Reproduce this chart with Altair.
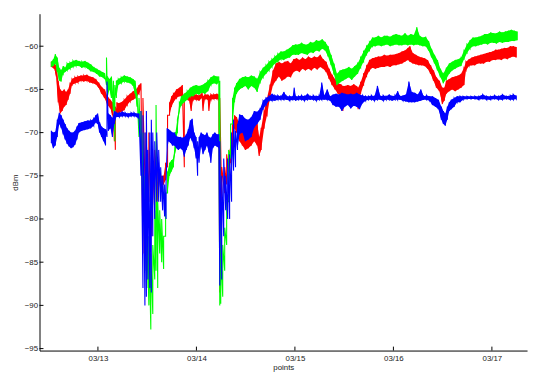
import altair as alt
import pandas as pd

# (day of March, low dBm, high dBm); the band shows the noise spread
GREEN = [
    (12.527, -62.4, -61.8), (12.547, -62.3, -61.5), (12.567, -62.0, -60.9), (12.587, -63.0, -61.3),
    (12.607, -64.0, -62.5), (12.627, -64.1, -62.8), (12.647, -63.2, -62.3), (12.667, -63.0, -62.5),
    (12.687, -62.8, -62.0), (12.717, -62.6, -61.9), (12.747, -62.4, -61.7), (12.777, -62.3, -61.6),
    (12.807, -62.3, -61.7), (12.837, -62.5, -61.8), (12.867, -62.4, -61.7), (12.897, -62.6, -61.9),
    (12.927, -62.9, -62.1), (12.957, -63.0, -62.4), (12.987, -63.2, -62.6), (13.017, -63.5, -62.8),
    (13.047, -63.6, -63.0), (13.067, -63.8, -63.1), (13.087, -64.5, -61.3), (13.097, -66.0, -63.5),
    (13.117, -65.0, -63.8), (13.137, -66.0, -63.5), (13.157, -67.5, -64.0), (13.172, -71.0, -64.5),
    (13.187, -66.0, -64.0), (13.207, -64.5, -63.8), (13.237, -64.3, -63.6), (13.267, -64.1, -63.4),
    (13.297, -64.2, -63.5), (13.327, -64.3, -63.6), (13.357, -64.6, -63.8), (13.377, -65.5, -64.0),
    (13.397, -67.0, -65.5), (13.417, -70.5, -66.0), (13.437, -72.0, -67.5), (13.457, -80.0, -70.0),
    (13.477, -86.0, -75.0), (13.497, -88.0, -80.0), (13.517, -90.0, -82.0), (13.537, -92.8, -84.0),
    (13.557, -91.0, -83.0), (13.577, -87.0, -79.0), (13.590, -86.0, -66.8), (13.607, -88.0, -78.0),
    (13.627, -84.0, -79.0), (13.647, -85.0, -80.0), (13.667, -85.8, -82.0), (13.687, -82.0, -77.0),
    (13.707, -77.0, -74.5), (13.727, -75.0, -73.5), (13.747, -74.5, -73.2), (13.767, -74.0, -73.0),
    (13.787, -72.0, -70.0), (13.807, -70.0, -68.5), (13.827, -67.5, -66.5), (13.847, -66.8, -65.8),
    (13.877, -66.5, -65.5), (13.907, -66.2, -65.2), (13.937, -65.8, -64.8), (13.967, -65.8, -64.6),
    (13.997, -65.5, -64.5), (14.027, -65.6, -64.6), (14.057, -65.4, -64.5), (14.087, -65.5, -64.3),
    (14.117, -65.2, -64.0), (14.147, -64.5, -63.6), (14.177, -64.3, -63.4), (14.207, -64.4, -63.5),
    (14.227, -64.2, -63.5), (14.237, -90.0, -64.0), (14.247, -89.8, -84.0), (14.267, -89.0, -83.0),
    (14.287, -86.0, -81.0), (14.307, -83.0, -78.0), (14.327, -78.0, -72.0), (14.347, -73.0, -69.0),
    (14.367, -69.0, -66.0), (14.387, -66.5, -64.8), (14.407, -65.5, -64.3), (14.437, -65.0, -63.8),
    (14.467, -64.8, -63.6), (14.497, -64.6, -63.5), (14.527, -65.0, -63.6), (14.557, -64.6, -63.4),
    (14.587, -64.8, -63.5), (14.617, -65.3, -63.8), (14.647, -64.2, -63.0), (14.677, -63.6, -62.5),
    (14.707, -63.2, -62.2), (14.737, -62.8, -61.8), (14.767, -62.4, -61.5), (14.797, -62.0, -61.2),
    (14.827, -61.8, -60.9), (14.857, -61.5, -60.6), (14.887, -61.6, -60.6), (14.917, -61.4, -60.4),
    (14.947, -61.3, -60.2), (14.977, -61.0, -59.9), (15.007, -61.0, -59.8), (15.037, -61.0, -59.8),
    (15.067, -60.8, -59.6), (15.097, -60.9, -59.8), (15.127, -61.0, -59.8), (15.157, -60.7, -59.5),
    (15.187, -60.8, -59.6), (15.217, -60.5, -59.3), (15.247, -60.6, -59.4), (15.277, -60.3, -59.2),
    (15.307, -60.5, -59.5), (15.337, -61.2, -60.0), (15.367, -62.2, -61.0), (15.397, -63.3, -62.0),
    (15.427, -64.5, -63.2), (15.457, -64.2, -62.8), (15.487, -64.0, -62.7), (15.517, -63.8, -62.6),
    (15.547, -63.6, -62.4), (15.577, -63.9, -62.6), (15.607, -63.5, -62.3), (15.637, -63.2, -62.0),
    (15.667, -62.5, -61.3), (15.697, -61.8, -60.6), (15.727, -61.0, -60.0), (15.757, -60.5, -59.5),
    (15.787, -60.0, -59.0), (15.817, -60.0, -59.0), (15.847, -59.9, -58.8), (15.877, -60.0, -59.0),
    (15.907, -59.9, -58.8), (15.937, -59.8, -58.8), (15.967, -60.0, -58.9), (15.997, -59.9, -58.7),
    (16.027, -59.8, -58.6), (16.057, -59.9, -58.7), (16.087, -59.9, -58.8), (16.117, -59.8, -58.5),
    (16.147, -59.9, -58.8), (16.177, -59.8, -58.6), (16.207, -59.9, -58.7), (16.237, -59.8, -57.8),
    (16.267, -59.9, -58.8), (16.297, -60.0, -59.0), (16.327, -60.0, -58.9), (16.357, -60.5, -59.4),
    (16.387, -61.3, -60.3), (16.417, -62.0, -61.0), (16.447, -62.8, -61.6), (16.477, -63.6, -62.6),
    (16.507, -64.3, -63.2), (16.537, -63.8, -62.5), (16.567, -63.2, -62.0), (16.597, -62.8, -61.8),
    (16.627, -62.6, -61.6), (16.657, -62.4, -61.5), (16.687, -62.3, -61.3), (16.717, -61.5, -60.5),
    (16.747, -60.8, -59.8), (16.777, -60.3, -59.3), (16.807, -60.0, -59.0), (16.837, -60.0, -59.0),
    (16.867, -59.9, -58.9), (16.897, -59.8, -58.8), (16.927, -59.7, -58.6), (16.957, -59.8, -58.6),
    (16.987, -59.6, -58.4), (17.017, -59.6, -58.5), (17.047, -59.7, -58.5), (17.077, -59.5, -58.3),
    (17.107, -59.6, -58.4), (17.137, -59.5, -58.3), (17.167, -59.5, -58.2), (17.197, -59.4, -58.1),
    (17.227, -59.4, -58.2), (17.257, -59.3, -58.3),
]

RED = [
    (12.527, -62.4, -61.8), (12.557, -62.6, -62.0), (12.577, -63.5, -62.2), (12.597, -66.5, -64.0),
    (12.617, -67.8, -65.0), (12.637, -67.5, -65.2), (12.657, -67.0, -65.0), (12.677, -66.8, -65.3),
    (12.697, -66.2, -65.0), (12.717, -65.5, -64.3), (12.737, -64.5, -63.8), (12.767, -64.3, -63.6),
    (12.797, -64.2, -63.5), (12.827, -64.0, -63.4), (12.857, -64.1, -63.4), (12.887, -64.0, -63.3),
    (12.917, -64.2, -63.5), (12.947, -64.3, -63.6), (12.977, -64.4, -63.8), (13.007, -64.8, -64.2),
    (13.037, -65.5, -64.7), (13.067, -66.0, -65.0), (13.097, -66.8, -65.8), (13.127, -67.2, -66.2),
    (13.147, -68.0, -66.5), (13.167, -71.0, -66.8), (13.177, -72.0, -67.0), (13.192, -68.0, -66.5),
    (13.207, -67.8, -66.6), (13.237, -67.6, -66.5), (13.267, -67.4, -66.2), (13.297, -66.8, -65.8),
    (13.327, -66.4, -65.5), (13.357, -66.2, -65.2), (13.387, -66.0, -65.0), (13.417, -65.5, -64.5),
    (13.437, -65.0, -64.3), (13.457, -84.0, -66.0), (13.487, -80.0, -70.0), (13.517, -78.0, -70.0),
    (13.547, -82.0, -72.0), (13.577, -79.0, -72.0), (13.607, -78.0, -74.0), (13.637, -76.5, -75.0),
    (13.667, -76.0, -75.0), (13.687, -75.5, -73.5), (13.707, -74.0, -68.0), (13.727, -68.0, -66.5),
    (13.747, -67.0, -65.8), (13.767, -66.5, -65.5), (13.797, -66.0, -65.0), (13.827, -65.8, -64.8),
    (13.857, -65.8, -64.5), (13.877, -74.0, -65.5), (13.897, -66.2, -65.4), (13.927, -66.3, -65.6),
    (13.947, -67.5, -65.8), (13.967, -66.2, -65.6), (13.997, -66.2, -65.6), (14.027, -66.3, -65.7),
    (14.057, -66.0, -65.4), (14.067, -67.5, -65.8), (14.087, -66.1, -65.6), (14.117, -66.2, -65.6),
    (14.127, -67.5, -65.8), (14.147, -66.2, -65.6), (14.177, -66.1, -65.6), (14.207, -66.1, -65.5),
    (14.227, -66.2, -65.6), (14.237, -88.5, -66.0), (14.257, -78.0, -74.0), (14.287, -77.0, -74.0),
    (14.307, -76.0, -72.5), (14.327, -74.5, -72.5), (14.347, -73.5, -71.5), (14.367, -72.0, -69.0),
    (14.387, -69.5, -68.0), (14.407, -70.0, -68.2), (14.437, -71.0, -69.0), (14.467, -71.5, -69.3),
    (14.497, -72.0, -69.8), (14.527, -71.8, -69.5), (14.557, -71.5, -68.8), (14.587, -71.0, -68.5),
    (14.617, -71.5, -69.0), (14.637, -72.7, -70.5), (14.657, -72.0, -69.5), (14.687, -69.5, -67.5),
    (14.717, -68.0, -66.0), (14.747, -66.0, -64.5), (14.777, -64.5, -62.8), (14.807, -64.0, -62.0),
    (14.837, -63.5, -61.8), (14.867, -64.0, -62.0), (14.897, -63.8, -61.8), (14.927, -63.5, -61.7),
    (14.957, -63.6, -62.0), (14.987, -63.0, -61.5), (15.017, -62.8, -61.4), (15.047, -63.0, -61.6),
    (15.077, -62.6, -61.3), (15.107, -62.8, -61.5), (15.137, -62.6, -61.2), (15.167, -62.8, -61.4),
    (15.197, -62.5, -61.2), (15.227, -62.7, -61.3), (15.257, -62.4, -61.0), (15.287, -62.6, -61.5),
    (15.317, -63.0, -61.8), (15.347, -63.8, -62.6), (15.377, -64.5, -63.3), (15.407, -65.0, -63.8),
    (15.437, -65.5, -64.3), (15.467, -65.8, -64.4), (15.487, -67.5, -64.6), (15.507, -66.0, -64.6),
    (15.537, -65.8, -64.5), (15.567, -66.0, -64.6), (15.597, -65.8, -64.4), (15.627, -66.0, -64.6),
    (15.642, -67.3, -64.8), (15.667, -65.5, -64.2), (15.697, -64.5, -63.2), (15.727, -63.5, -62.3),
    (15.757, -62.8, -61.6), (15.787, -62.5, -61.4), (15.817, -62.6, -61.3), (15.847, -62.5, -61.2),
    (15.877, -62.4, -61.2), (15.907, -62.4, -61.0), (15.937, -62.3, -61.1), (15.967, -62.4, -61.0),
    (15.997, -62.2, -61.0), (16.027, -62.2, -60.9), (16.057, -62.1, -60.8), (16.087, -62.0, -60.6),
    (16.117, -61.8, -60.5), (16.147, -61.6, -60.2), (16.167, -61.8, -60.0), (16.197, -62.0, -60.8),
    (16.227, -62.1, -61.0), (16.257, -62.2, -61.2), (16.287, -62.2, -61.3), (16.317, -62.3, -61.4),
    (16.347, -62.6, -61.6), (16.377, -63.2, -62.2), (16.407, -64.0, -62.8), (16.437, -64.8, -63.6),
    (16.467, -65.2, -64.0), (16.497, -66.7, -64.8), (16.517, -66.3, -64.8), (16.537, -65.5, -64.0),
    (16.567, -65.2, -63.8), (16.597, -65.0, -63.6), (16.627, -65.2, -63.5), (16.657, -65.0, -63.4),
    (16.687, -64.8, -63.2), (16.717, -64.5, -62.5), (16.737, -62.8, -61.8), (16.767, -62.3, -61.5),
    (16.797, -62.2, -61.3), (16.827, -62.2, -61.2), (16.857, -62.0, -61.1), (16.887, -62.0, -61.0),
    (16.917, -62.0, -60.9), (16.947, -61.8, -60.8), (16.977, -61.8, -60.7), (17.007, -61.6, -60.6),
    (17.037, -61.6, -60.4), (17.067, -61.5, -60.4), (17.097, -61.6, -60.3), (17.127, -61.4, -60.2),
    (17.157, -61.5, -60.2), (17.187, -61.3, -60.0), (17.217, -61.2, -60.0), (17.247, -61.3, -60.1),
]

BLUE = [
    (12.527, -71.2, -69.8), (12.547, -71.8, -70.0), (12.567, -71.5, -69.9), (12.587, -70.5, -68.5),
    (12.607, -69.0, -67.7), (12.627, -69.5, -68.0), (12.647, -70.2, -68.5), (12.667, -70.8, -69.0),
    (12.687, -71.3, -69.5), (12.707, -71.6, -69.8), (12.727, -71.8, -70.0), (12.747, -71.7, -70.0),
    (12.767, -71.4, -69.8), (12.787, -70.8, -69.3), (12.807, -70.0, -68.9), (12.837, -69.8, -68.8),
    (12.867, -69.7, -68.7), (12.897, -69.6, -68.6), (12.927, -69.5, -68.6), (12.957, -69.2, -68.4),
    (12.977, -68.8, -68.0), (12.997, -69.0, -67.8), (13.017, -70.0, -68.8), (13.037, -70.5, -69.3),
    (13.057, -71.0, -69.5), (13.077, -71.5, -69.6), (13.092, -70.5, -64.1), (13.107, -69.8, -67.8),
    (13.127, -69.5, -68.0), (13.147, -70.5, -68.3), (13.167, -69.0, -67.5), (13.187, -68.2, -67.7),
    (13.217, -68.2, -67.7), (13.247, -68.1, -67.6), (13.277, -68.1, -67.7), (13.307, -68.2, -67.8),
    (13.337, -68.1, -67.7), (13.367, -68.1, -67.7), (13.397, -68.2, -67.8), (13.417, -68.4, -67.8),
    (13.437, -75.0, -67.5), (13.457, -88.0, -68.0), (13.477, -90.0, -70.0), (13.492, -89.0, -67.5),
    (13.507, -87.0, -72.0), (13.527, -88.0, -70.0), (13.542, -88.5, -68.5), (13.557, -82.0, -70.0),
    (13.577, -80.0, -71.0), (13.597, -78.0, -70.0), (13.617, -78.0, -72.0), (13.637, -78.0, -74.0),
    (13.657, -79.0, -75.0), (13.677, -79.7, -76.0), (13.692, -80.0, -75.5), (13.702, -72.0, -69.5),
    (13.717, -71.0, -69.6), (13.737, -71.2, -69.8), (13.757, -71.5, -70.0), (13.777, -71.5, -70.0),
    (13.797, -71.8, -70.4), (13.817, -72.0, -70.5), (13.837, -71.8, -70.5), (13.857, -72.0, -70.6),
    (13.877, -72.8, -70.5), (13.897, -72.0, -70.2), (13.917, -71.5, -69.6), (13.937, -70.6, -68.6),
    (13.957, -71.0, -68.4), (13.977, -71.8, -70.0), (13.997, -73.0, -70.5), (14.012, -75.0, -71.0),
    (14.027, -73.5, -70.5), (14.047, -71.6, -70.0), (14.067, -72.5, -70.2), (14.087, -72.0, -70.3),
    (14.107, -71.5, -70.0), (14.127, -72.3, -70.5), (14.147, -73.5, -70.6), (14.167, -71.8, -70.2),
    (14.187, -71.5, -70.0), (14.207, -71.6, -70.2), (14.227, -71.8, -70.2), (14.237, -87.7, -71.0),
    (14.257, -87.0, -75.0), (14.277, -82.0, -73.0), (14.297, -79.0, -75.0), (14.317, -80.0, -73.0),
    (14.337, -80.0, -72.5), (14.357, -78.0, -70.0), (14.377, -74.4, -68.5), (14.397, -74.0, -69.8),
    (14.417, -72.0, -69.0), (14.437, -70.2, -67.9), (14.467, -70.0, -68.0), (14.497, -71.0, -68.4),
    (14.527, -70.8, -68.5), (14.557, -70.5, -68.2), (14.587, -69.4, -67.5), (14.617, -69.0, -67.6),
    (14.647, -68.5, -67.2), (14.677, -67.3, -66.3), (14.707, -66.8, -66.0), (14.737, -66.3, -65.8),
    (14.767, -66.3, -65.5), (14.797, -66.3, -65.7), (14.827, -66.2, -65.7), (14.857, -66.2, -65.8),
    (14.887, -66.2, -65.3), (14.917, -66.2, -65.8), (14.947, -66.3, -65.8), (14.977, -66.2, -65.8),
    (14.992, -66.2, -64.8), (15.007, -66.3, -65.8), (15.037, -66.2, -65.8), (15.067, -66.2, -65.7),
    (15.097, -66.3, -65.8), (15.127, -66.2, -65.5), (15.157, -66.2, -65.8), (15.187, -66.2, -65.7),
    (15.217, -66.3, -65.8), (15.247, -66.2, -65.7), (15.272, -66.2, -64.2), (15.297, -66.2, -65.7),
    (15.327, -66.2, -65.0), (15.357, -66.3, -65.8), (15.387, -66.8, -65.6), (15.417, -67.0, -65.5),
    (15.447, -67.0, -65.6), (15.477, -67.5, -65.4), (15.507, -67.0, -65.5), (15.537, -66.8, -65.6),
    (15.567, -67.2, -65.5), (15.597, -66.9, -65.6), (15.627, -67.0, -65.4), (15.657, -67.3, -65.6),
    (15.687, -66.6, -65.7), (15.717, -66.3, -65.8), (15.747, -66.2, -65.8), (15.777, -66.2, -65.7),
    (15.807, -66.3, -65.8), (15.837, -66.2, -64.6), (15.867, -66.2, -65.8), (15.897, -66.3, -65.7),
    (15.927, -66.2, -65.8), (15.957, -66.2, -65.6), (15.987, -66.3, -65.8), (16.017, -66.2, -65.7),
    (16.042, -66.2, -65.2), (16.067, -66.2, -65.8), (16.097, -66.3, -65.7), (16.127, -66.4, -65.6),
    (16.157, -66.5, -64.1), (16.187, -66.5, -65.3), (16.217, -66.5, -65.4), (16.247, -66.4, -65.6),
    (16.277, -66.3, -65.0), (16.307, -66.2, -65.8), (16.337, -66.2, -65.7), (16.367, -66.3, -65.8),
    (16.397, -66.8, -65.8), (16.427, -67.0, -66.0), (16.457, -67.3, -66.2), (16.487, -68.5, -67.0),
    (16.507, -69.0, -67.5), (16.527, -69.2, -67.8), (16.547, -68.5, -67.0), (16.567, -67.5, -66.5),
    (16.587, -67.3, -66.2), (16.617, -67.0, -66.0), (16.647, -66.5, -65.8), (16.677, -66.5, -65.8),
    (16.707, -66.2, -65.8), (16.747, -66.1, -65.8), (16.787, -66.1, -65.8), (16.827, -66.1, -65.8),
    (16.867, -66.2, -65.8), (16.907, -66.1, -65.6), (16.947, -66.2, -65.8), (16.987, -66.2, -65.8),
    (17.027, -66.1, -65.7), (17.067, -66.2, -65.8), (17.107, -66.2, -65.6), (17.147, -66.1, -65.8),
    (17.187, -66.2, -65.7), (17.217, -66.2, -65.6), (17.247, -66.1, -65.7),
]

Y_TICKS = [-95, -90, -85, -80, -75, -70, -65, -60]
X_TICK_DAYS = [13, 14, 15, 16, 17]
SERIES = [("red", "#ff0000", RED), ("green", "#00ff00", GREEN), ("blue", "#0000ff", BLUE)]
BAND_MAX = 3.0   # spreads wider than this are drawn only as the raw trace (spikes / drop-outs)

BASE = pd.Timestamp("2012-03-12")
W, H = 495, 342


def to_ts(d):
    return BASE + pd.Timedelta(days=d - 12)


x_scale = alt.Scale(domain=[alt.DateTime(year=2012, month=3, date=12, hours=9, minutes=46),
                            alt.DateTime(year=2012, month=3, date=17, hours=8, minutes=34)])
y_scale = alt.Scale(domain=[-95.23, -56.24], nice=False, zero=False)

x_axis = alt.Axis(values=[alt.DateTime(year=2012, month=3, date=d) for d in X_TICK_DAYS],
                  format="%m/%d", labelPadding=4, titlePadding=1)
y_axis = alt.Axis(values=Y_TICKS, labelPadding=2, titlePadding=5)
x_enc = alt.X("t:T", scale=x_scale, title="points", axis=x_axis)
y_enc = alt.Y("v:Q", scale=y_scale, title="dBm", axis=y_axis)

layers = []
for name, col, data in SERIES:
    band_rows = []
    seg = 0
    prev_ok = False
    for d, lo, hi in data:
        ok = (hi - lo) <= BAND_MAX
        if ok:
            if not prev_ok:
                seg += 1
            band_rows.append({"t": to_ts(d), "v": lo, "v2": hi, "seg": seg})
        prev_ok = ok
    band = pd.DataFrame(band_rows)
    rows = []
    i = 0
    for d, lo, hi in data:
        rows.append({"t": to_ts(d), "v": lo, "i": i}); i += 1
        rows.append({"t": to_ts(d), "v": hi, "i": i}); i += 1
    zig = pd.DataFrame(rows)
    layers.append(alt.Chart(band).mark_area(color=col, opacity=1, clip=True)
                  .encode(x=x_enc, y=y_enc, y2="v2:Q", detail="seg:N"))
    layers.append(alt.Chart(zig).mark_line(color=col, strokeWidth=1.1, clip=True)
                  .encode(x=x_enc, y=y_enc, order="i:Q"))

ytick_df = pd.DataFrame({"v": Y_TICKS})
xtick_df = pd.DataFrame({"t": [to_ts(d) for d in X_TICK_DAYS]})
layers.append(alt.Chart(ytick_df).mark_rule(color="#000", strokeWidth=1)
              .encode(y=y_enc, x=alt.value(0), x2=alt.value(4)))
layers.append(alt.Chart(xtick_df).mark_rule(color="#000", strokeWidth=1)
              .encode(x=x_enc, y=alt.value(H), y2=alt.value(H - 4)))

chart = alt.layer(*layers).properties(
    width=W, height=H,
    autosize=alt.AutoSizeParams(type="none"),
    padding={"left": 32, "top": 3, "right": 4, "bottom": 22},
).configure_view(stroke=None).configure_axis(
    grid=False, ticks=False, domainColor="#000", domainWidth=1,
    labelFont="Liberation Sans", labelFontSize=8, labelColor="#222",
    titleFont="Liberation Sans", titleFontSize=8, titleFontWeight="normal", titleColor="#222",
)

chart.save("out.html", embed_options={"renderer": "svg", "actions": False})
